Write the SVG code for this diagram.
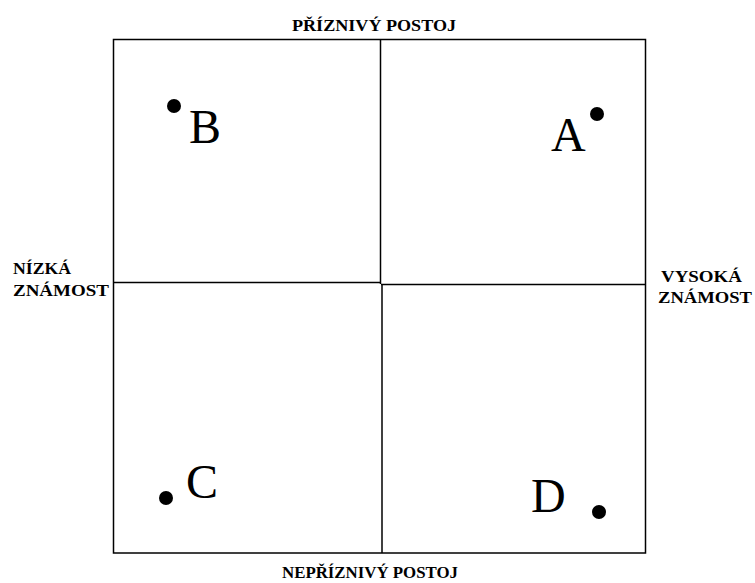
<svg xmlns="http://www.w3.org/2000/svg" width="755" height="583" viewBox="0 0 755 583">
<style>
.lbl{font-family:"Liberation Serif","DejaVu Serif",serif;font-weight:bold;font-size:16px;fill:#000}
.big{font-family:"Liberation Serif","DejaVu Serif",serif;font-size:48px;fill:#000}
.ln{stroke:#000;stroke-width:1.5;fill:none}
</style>
<rect width="755" height="583" fill="#fff"/>
<g id="connectors">
<rect class="ln" x="113.5" y="39.5" width="532" height="513.5"/>
<line class="ln" x1="380.5" y1="40" x2="380.5" y2="284"/>
<line class="ln" x1="382" y1="284" x2="382" y2="553"/>
<line class="ln" x1="113" y1="282.5" x2="381" y2="282.5"/>
<line class="ln" x1="381" y1="284.5" x2="646" y2="284.5"/>
</g>
<g id="top"><text class="lbl" x="292" y="31" textLength="164" lengthAdjust="spacingAndGlyphs">PŘÍZNIVÝ POSTOJ</text></g>
<g id="bottom"><text class="lbl" x="282" y="578" textLength="176" lengthAdjust="spacingAndGlyphs">NEPŘÍZNIVÝ POSTOJ</text></g>
<g id="left"><text class="lbl" x="13" y="274" textLength="58" lengthAdjust="spacingAndGlyphs">NÍZKÁ</text><text class="lbl" x="13" y="296" textLength="96" lengthAdjust="spacingAndGlyphs">ZNÁMOST</text></g>
<g id="right"><text class="lbl" x="661" y="282" textLength="81" lengthAdjust="spacingAndGlyphs">VYSOKÁ</text><text class="lbl" x="658" y="303" textLength="94" lengthAdjust="spacingAndGlyphs">ZNÁMOST</text></g>
<g id="nodeB"><circle cx="174" cy="106" r="7"/><text class="big" x="189" y="143">B</text></g>
<g id="nodeA"><circle cx="597" cy="114" r="7"/><text class="big" x="551" y="151">A</text></g>
<g id="nodeC"><circle cx="166" cy="498" r="7"/><text class="big" x="186" y="498">C</text></g>
<g id="nodeD"><circle cx="599" cy="512" r="7"/><text class="big" x="531" y="512">D</text></g>
</svg>
